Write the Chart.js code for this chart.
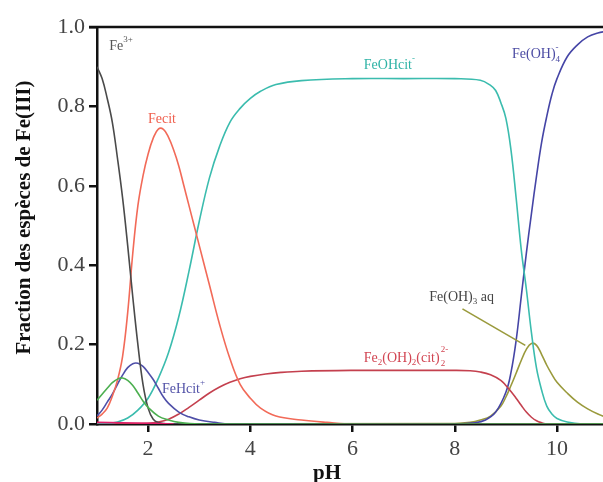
<!DOCTYPE html>
<html>
<head>
<meta charset="utf-8">
<script src="https://cdn.jsdelivr.net/npm/chart.js@4.4.1/dist/chart.umd.min.js"></script>
<style>
  html, body { margin: 0; padding: 0; background: #fff; }
  #chart { display: block; }
</style>
</head>
<body>
<canvas id="chart" width="603" height="482"></canvas>
<script>
// données (pH, fraction)
const phFe3 = [1.0, 1.1, 1.2, 1.3, 1.4, 1.5, 1.6, 1.7, 1.8, 1.9, 2.0, 2.1, 2.2, 2.4, 3.0, 11];
const fe3   = [0.90, 0.87, 0.82, 0.76, 0.67, 0.57, 0.45, 0.32, 0.20, 0.10, 0.04, 0.012, 0.004, 0, 0, 0];

const phFecit = [1.0, 1.1, 1.2, 1.3, 1.4, 1.5, 1.6, 1.7, 1.8, 1.9, 2.0, 2.1, 2.2, 2.3, 2.4, 2.5, 2.6, 2.7, 2.8, 2.9, 3.0, 3.2, 3.4, 3.6, 3.8, 4.0, 4.2, 4.5, 5.0, 5.5, 6.0, 11];
const fecit   = [0.015, 0.025, 0.04, 0.07, 0.11, 0.17, 0.28, 0.43, 0.55, 0.625, 0.68, 0.72, 0.743, 0.742, 0.722, 0.69, 0.65, 0.60, 0.55, 0.50, 0.45, 0.35, 0.25, 0.165, 0.10, 0.065, 0.04, 0.02, 0.01, 0.004, 0, 0];

const phGreen = [1.0, 1.1, 1.2, 1.3, 1.4, 1.5, 1.6, 1.7, 1.8, 1.9, 2.0, 2.2, 2.4, 2.6, 3.0, 11];
const green   = [0.06, 0.075, 0.09, 0.104, 0.113, 0.116, 0.11, 0.097, 0.078, 0.058, 0.042, 0.02, 0.01, 0.004, 0, 0];

const phFeHcit = [1.0, 1.1, 1.2, 1.3, 1.4, 1.5, 1.6, 1.7, 1.8, 1.9, 2.0, 2.1, 2.2, 2.3, 2.4, 2.6, 2.8, 3.0, 3.3, 3.6, 11];
const feHcit   = [0.02, 0.035, 0.055, 0.075, 0.10, 0.123, 0.142, 0.152, 0.153, 0.145, 0.13, 0.112, 0.09, 0.068, 0.052, 0.03, 0.018, 0.01, 0.004, 0, 0];

const phFeOHcit = [1.0, 1.2, 1.4, 1.6, 1.8, 2.0, 2.2, 2.4, 2.6, 2.8, 3.0, 3.2, 3.4, 3.6, 3.8, 4.0, 4.2, 4.5, 5.0, 6.0, 7.0, 8.0, 8.5, 8.7, 8.8, 8.9, 9.0, 9.1, 9.2, 9.3, 9.4, 9.5, 9.6, 9.7, 9.8, 9.9, 10.0, 10.2, 10.5, 11];
const feOHcit   = [0, 0.001, 0.005, 0.015, 0.035, 0.065, 0.115, 0.18, 0.27, 0.385, 0.51, 0.62, 0.70, 0.76, 0.795, 0.82, 0.838, 0.855, 0.865, 0.87, 0.87, 0.87, 0.866, 0.853, 0.84, 0.81, 0.77, 0.69, 0.57, 0.44, 0.34, 0.23, 0.14, 0.085, 0.045, 0.025, 0.014, 0.005, 0, 0];

const phFe2 = [1.0, 2.0, 2.2, 2.4, 2.6, 2.8, 3.0, 3.2, 3.4, 3.6, 3.8, 4.0, 4.3, 4.6, 5.0, 6.0, 7.0, 8.0, 8.3, 8.5, 8.7, 8.9, 9.0, 9.1, 9.2, 9.3, 9.4, 9.5, 9.6, 9.7, 9.8, 11];
const fe2   = [0, 0.002, 0.005, 0.012, 0.025, 0.042, 0.06, 0.078, 0.093, 0.105, 0.114, 0.12, 0.126, 0.13, 0.133, 0.135, 0.135, 0.135, 0.134, 0.131, 0.124, 0.11, 0.097, 0.082, 0.065, 0.047, 0.03, 0.017, 0.008, 0.003, 0, 0];

const phFeOH4 = [1.0, 8.0, 8.4, 8.6, 8.8, 9.0, 9.1, 9.2, 9.3, 9.4, 9.5, 9.6, 9.7, 9.8, 9.9, 10.0, 10.2, 10.4, 10.6, 10.8, 11.0];
const feOH4   = [0, 0, 0.003, 0.01, 0.03, 0.08, 0.13, 0.21, 0.32, 0.43, 0.53, 0.625, 0.71, 0.775, 0.83, 0.87, 0.925, 0.955, 0.975, 0.985, 0.99];

const phFeOH3 = [1.0, 8.0, 8.3, 8.5, 8.7, 8.9, 9.0, 9.1, 9.2, 9.3, 9.4, 9.5, 9.6, 9.7, 9.8, 9.9, 10.0, 10.2, 10.4, 10.6, 10.8, 11.0];
const feOH3   = [0, 0.001, 0.004, 0.01, 0.02, 0.045, 0.068, 0.097, 0.128, 0.16, 0.188, 0.203, 0.198, 0.175, 0.148, 0.125, 0.105, 0.078, 0.055, 0.038, 0.025, 0.015];

const phPink = [1.0, 1.5, 2.0, 2.5];
const pink   = [0.004, 0.003, 0.002, 0];

const xTicks = [2, 4, 6, 8, 10];
const yTicks = [0, 0.2, 0.4, 0.6, 0.8, 1.0];

const xTitle = 'pH';
const yTitle = 'Fraction des espèces de Fe(III)';

// étiquettes des espèces : segments [texte, 'sup' | 'sub' | ''], ancre en (pH, fraction)
const labels = [
  { parts: [['Fe', ''], ['3+', 'sup']], x: 1.24, y: 0.952, color: '#555555', align: 'left' },
  { parts: [['Fecit', '']], x: 2.27, y: 0.768, color: '#f0604f', align: 'center' },
  { parts: [['FeOHcit', ''], ['-', 'sup']], x: 6.22, y: 0.904, color: '#2fb3a6', align: 'left' },
  { parts: [['Fe(OH)', ''], ['4', 'subsup']], x: 9.12, y: 0.93, color: '#4b4ba3', align: 'left' },
  { parts: [['Fe(OH)', ''], ['3', 'sub'], [' aq', '']], x: 7.50, y: 0.32, color: '#444444', align: 'left' },
  { parts: [['Fe', ''], ['2', 'sub'], ['(OH)', ''], ['2', 'sub'], ['(cit)', ''], ['2', 'subsup2']], x: 6.22, y: 0.166, color: '#d24552', align: 'left' },
  { parts: [['FeHcit', ''], ['+', 'sup']], x: 2.27, y: 0.088, color: '#5353a8', align: 'left' }
];
const leader = { from: [8.15, 0.29], to: [9.38, 0.198], color: '#9a9a3c' };

const pts = (xs, ys) => xs.map((x, i) => ({ x, y: ys[i] }));

function serie(xs, ys, color) {
  return {
    data: pts(xs, ys),
    borderColor: color,
    borderWidth: 1.6,
    pointRadius: 0,
    fill: false,
    tension: 0.4
  };
}

// plugin : cadre du haut, titres des axes et étiquettes
const annotations = {
  id: 'annotations',
  afterDatasetsDraw(chart) {
    const { ctx, chartArea, scales: { x, y } } = chart;
    ctx.save();
    ctx.strokeStyle = '#111';
    ctx.lineWidth = 2.5;
    ctx.beginPath();
    ctx.moveTo(chartArea.left - 8, chartArea.top);
    ctx.lineTo(chartArea.right, chartArea.top);
    ctx.stroke();

    ctx.strokeStyle = leader.color;
    ctx.lineWidth = 1.6;
    ctx.beginPath();
    ctx.moveTo(x.getPixelForValue(leader.from[0]), y.getPixelForValue(leader.from[1]));
    ctx.lineTo(x.getPixelForValue(leader.to[0]), y.getPixelForValue(leader.to[1]));
    ctx.stroke();

    // titres
    ctx.fillStyle = '#111';
    ctx.textAlign = 'center';
    ctx.textBaseline = 'alphabetic';
    ctx.font = 'bold 21px "Liberation Serif", serif';
    ctx.fillText(xTitle, x.getPixelForValue(5.5), chartArea.bottom + 55);
    ctx.save();
    ctx.translate(30, y.getPixelForValue(0.52));
    ctx.rotate(-Math.PI / 2);
    ctx.font = 'bold 21px "Liberation Serif", serif';
    ctx.fillText(yTitle, 0, 0);
    ctx.restore();

    const main = '14px "Liberation Serif", serif';
    const small = '9px "Liberation Serif", serif';
    ctx.textAlign = 'left';
    ctx.textBaseline = 'middle';
    labels.forEach(l => {
      ctx.fillStyle = l.color;
      let total = 0;
      l.parts.forEach(([t, k]) => {
        ctx.font = k ? small : main;
        total += ctx.measureText(k === 'subsup2' ? '2-' : t).width;
      });
      let px = x.getPixelForValue(l.x);
      const py = y.getPixelForValue(l.y);
      if (l.align === 'center') px -= total / 2;
      l.parts.forEach(([t, k]) => {
        if (!k) {
          ctx.font = main;
          ctx.fillText(t, px, py);
          px += ctx.measureText(t).width;
        } else if (k === 'sup') {
          ctx.font = small;
          ctx.fillText(t, px, py - 6);
          px += ctx.measureText(t).width;
        } else if (k === 'sub') {
          ctx.font = small;
          ctx.fillText(t, px, py + 5);
          px += ctx.measureText(t).width;
        } else if (k === 'subsup') {
          ctx.font = small;
          ctx.fillText(t, px, py + 5);
          ctx.fillText('-', px, py - 7);
          px += ctx.measureText(t).width;
        } else if (k === 'subsup2') {
          ctx.font = small;
          ctx.fillText(t, px + 1, py + 6);
          ctx.fillText('2-', px + 1, py - 8);
          px += ctx.measureText('2-').width;
        }
      });
    });
    ctx.restore();
  }
};

const tickFont = { family: '"Liberation Serif", serif', size: 22 };

new Chart(document.getElementById('chart'), {
  type: 'line',
  data: {
    datasets: [
      serie(phPink, pink, '#e01f6a'),
      serie(phGreen, green, '#4caf50'),
      serie(phFe3, fe3, '#4a4a4a'),
      serie(phFecit, fecit, '#f26a58'),
      serie(phFeHcit, feHcit, '#4f4fa8'),
      serie(phFeOHcit, feOHcit, '#3bbcae'),
      serie(phFe2, fe2, '#c4404e'),
      serie(phFeOH4, feOH4, '#4545a6'),
      serie(phFeOH3, feOH3, '#9a9a3c')
    ]
  },
  options: {
    responsive: false,
    animation: false,
    layout: { padding: { top: 27, right: 0, left: 0, bottom: 0 } },
    plugins: { legend: { display: false }, tooltip: { enabled: false } },
    scales: {
      x: {
        type: 'linear',
        min: 1,
        max: 10.9,
        afterBuildTicks: s => { s.ticks = xTicks.map(v => ({ value: v })); },
        afterFit: s => { s.height = 58; },
        ticks: { color: '#444', font: tickFont, padding: 4, maxRotation: 0 },
        grid: { drawOnChartArea: false, drawTicks: true, tickLength: 8, color: '#111', lineWidth: 2.5 },
        border: { display: true, color: '#111', width: 2.5 }
      },
      y: {
        min: 0,
        max: 1,
        afterBuildTicks: s => { s.ticks = yTicks.map(v => ({ value: v })); },
        afterFit: s => { s.width = 97; },
        ticks: { color: '#444', font: tickFont, padding: 4, callback: v => v.toFixed(1) },
        grid: { drawOnChartArea: false, drawTicks: true, tickLength: 8, color: '#111', lineWidth: 2.5 },
        border: { display: true, color: '#111', width: 2.5 }
      }
    }
  },
  plugins: [annotations]
});
</script>
</body>
</html>
